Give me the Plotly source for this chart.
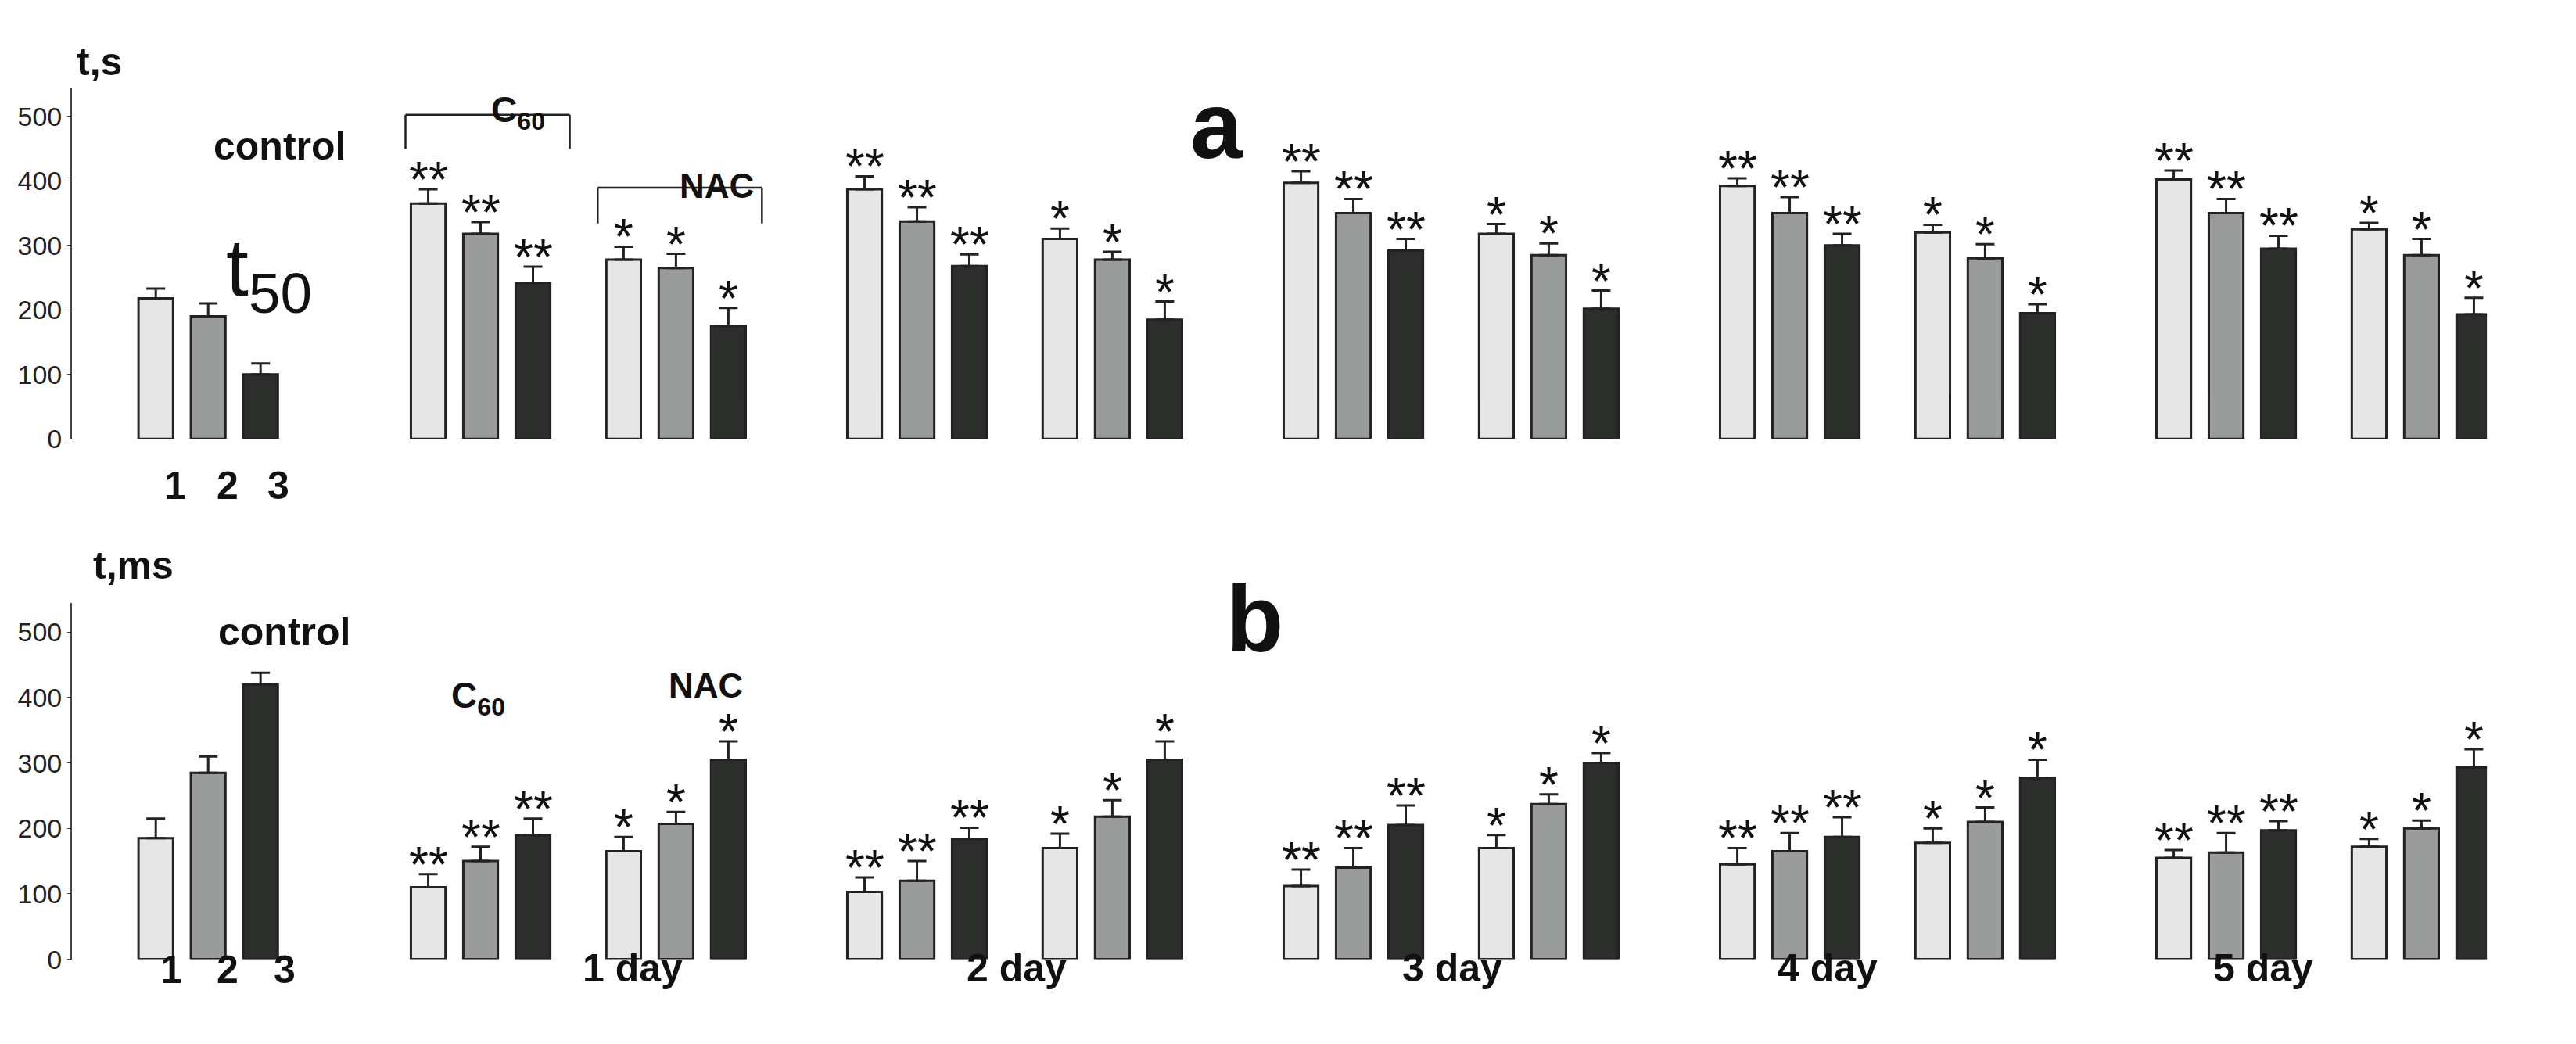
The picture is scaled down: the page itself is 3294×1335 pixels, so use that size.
import plotly.graph_objects as go

# ---------------- data ----------------
groups = ["control", "1 day C60", "1 day NAC", "2 day C60", "2 day NAC", "3 day C60", "3 day NAC",
          "4 day C60", "4 day NAC", "5 day C60", "5 day NAC"]
stars = ["", "**", "*", "**", "*", "**", "*", "**", "*", "**", "*"]

a_s1 = [218, 365, 278, 387, 310, 397, 318, 392, 320, 402, 325]
a_s2 = [190, 318, 265, 337, 278, 350, 285, 350, 280, 350, 285]
a_s3 = [100, 242, 175, 268, 185, 292, 202, 300, 195, 295, 193]
a_e1 = [15, 22, 20, 20, 16, 18, 15, 12, 12, 14, 10]
a_e2 = [20, 18, 22, 22, 12, 22, 18, 25, 22, 22, 25]
a_e3 = [17, 25, 28, 18, 28, 18, 28, 18, 14, 20, 26]

b_s1 = [185, 110, 165, 103, 170, 112, 170, 145, 178, 155, 172]
b_s2 = [285, 150, 207, 120, 218, 140, 237, 165, 210, 163, 200]
b_s3 = [420, 190, 305, 183, 305, 205, 300, 187, 277, 197, 293]
b_e1 = [30, 20, 22, 22, 22, 25, 20, 25, 22, 12, 12]
b_e2 = [25, 22, 18, 30, 25, 30, 15, 28, 22, 30, 12]
b_e3 = [18, 25, 28, 18, 28, 30, 15, 30, 28, 14, 28]

series_labels = ["1", "2", "3"]
day_labels = ["1 day", "2 day", "3 day", "4 day", "5 day"]
yticks = [0, 100, 200, 300, 400, 500]

colors = ["#e6e6e6", "#999c9b", "#2c2e2c"]

# ---------------- layout helpers ----------------
W, H = 3294, 1335
DW, DH = 1568.0, 635.0   # reference display coordinates
def px(x): return x / DW
def py(y): return 1 - y / DH

# group starting positions (in bar units)
group_start = [0.0]
for d in range(5):
    c = 5.2 + d * 8.33
    group_start += [c, c + 3.73]

FONT = "Liberation Sans Narrow, Liberation Sans, Arial"

fig = go.Figure()
panels = [("x", "y", [a_s1, a_s2, a_s3], [a_e1, a_e2, a_e3]),
          ("x2", "y2", [b_s1, b_s2, b_s3], [b_e1, b_e2, b_e3])]
annotations = []
for xa, ya, vals, errs in panels:
    for k in range(3):
        xs = [g + k for g in group_start]
        fig.add_trace(go.Bar(
            x=xs, y=vals[k], xaxis=xa, yaxis=ya, width=0.66,
            marker=dict(color=colors[k], line=dict(color="#222", width=3)),
            error_y=dict(type="data", symmetric=False, array=errs[k],
                         arrayminus=[0] * len(errs[k]), color="#222",
                         thickness=3, width=12),
            showlegend=False))
        for i, g in enumerate(group_start):
            if stars[i]:
                annotations.append(dict(
                    x=g + k, y=vals[k][i] + errs[k][i], xref=xa, yref=ya,
                    text=stars[i], showarrow=False, yanchor="bottom", yshift=-26,
                    font=dict(size=64, family="Liberation Sans", color="#111")))

axis_common = dict(range=[-1.6, 44.5], showgrid=False, zeroline=False,
                   showticklabels=False, showline=False, ticks="")
yaxis_common = dict(range=[0, 545], showgrid=False, zeroline=False, showline=True,
                    linecolor="#444", linewidth=2, ticks="outside", ticklen=4,
                    tickcolor="#444", tickvals=yticks,
                    tickfont=dict(size=34, family=FONT, color="#222"))

fig.update_layout(
    width=W, height=H, plot_bgcolor="white", paper_bgcolor="white",
    margin=dict(l=0, r=0, t=0, b=0), barmode="overlay",
    xaxis=dict(domain=[px(40), px(1510)], anchor="y", **axis_common),
    yaxis=dict(domain=[py(267), py(50)], anchor="x", **yaxis_common),
    xaxis2=dict(domain=[px(40), px(1510)], anchor="y2", **axis_common),
    yaxis2=dict(domain=[py(588), py(368)], anchor="x2", **yaxis_common),
)

def txt(x, y, s, size, bold=True, family="Liberation Sans"):
    annotations.append(dict(x=px(x), y=py(y), xref="paper", yref="paper", text=(f"<b>{s}</b>" if bold else s),
                            showarrow=False, font=dict(size=size, family=family, color="#111")))

txt(42, 20, "t,s", 50)
txt(52, 345, "t,ms", 50)
txt(125, 72, "control", 50)
txt(128, 386, "control", 50)
txt(133, 132, "t<sub>50</sub>", 104, bold=False, family=FONT)
txt(737, 40, "a", 120)
txt(760, 378, "b", 120)
txt(294, 50, "C<sub>60</sub>", 46)
txt(409, 98, "NAC", 44)
txt(270, 442, "C<sub>60</sub>", 46)
txt(402, 432, "NAC", 44)
for lbl, x in zip(series_labels, [95, 127, 158]):
    txt(x, 296, lbl, 50)
for lbl, x in zip(series_labels, [93, 127, 162]):
    txt(x, 609, lbl, 50)
for lbl, x in zip(day_labels, [350, 615, 880, 1140, 1405]):
    txt(x, 608, lbl, 50)

shapes = []
def bracket(x0, x1, ytop, ybot):
    pts = [(x0, ybot), (x0, ytop), (x1, ytop), (x1, ybot)]
    for (a, b), (c, d) in zip(pts[:-1], pts[1:]):
        shapes.append(dict(type="line", xref="paper", yref="paper", x0=px(a), y0=py(b), x1=px(c), y1=py(d),
                           line=dict(color="#222", width=2.5)))
bracket(243, 343, 67, 88)
bracket(360, 460, 112, 134)

fig.update_layout(annotations=annotations, shapes=shapes)
fig.write_html("out.html")
